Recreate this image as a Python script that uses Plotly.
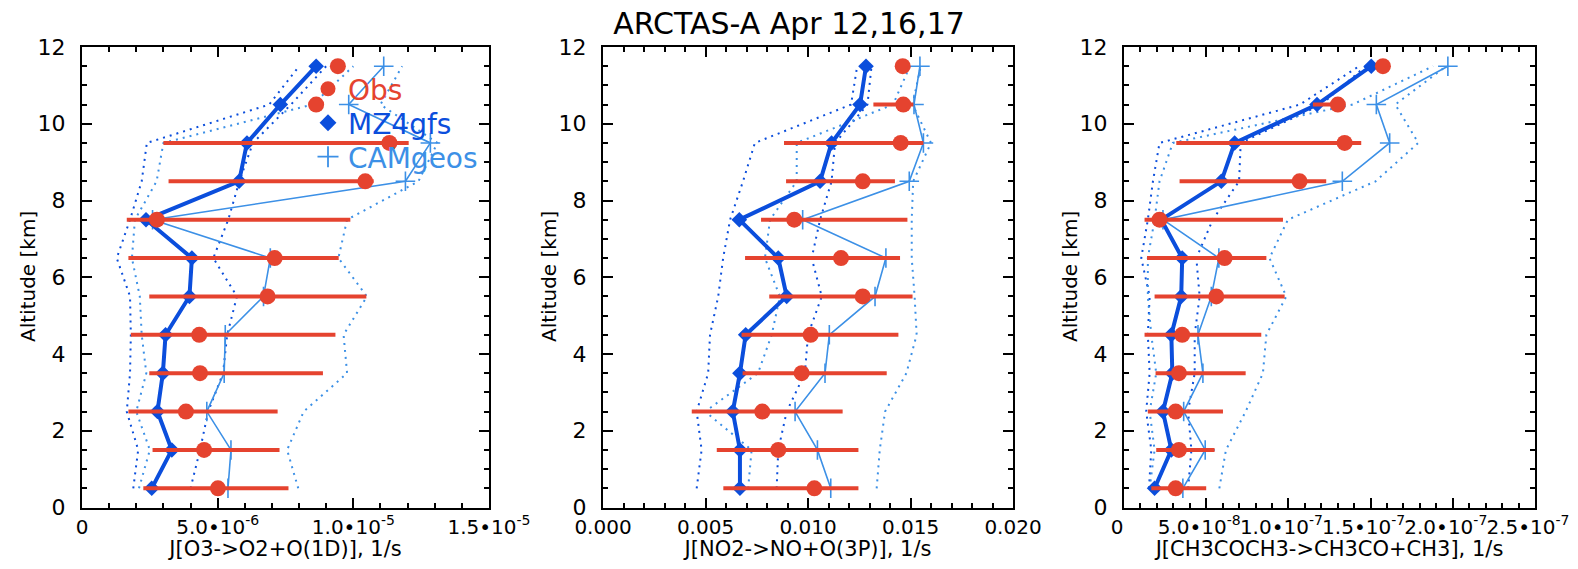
import plotly.graph_objects as go

# ---------------- data ----------------
altitude = [0.5, 1.5, 2.5, 3.5, 4.5, 5.5, 6.5, 7.5, 8.5, 9.5, 10.5, 11.5]

# Panel 1: J[O3->O2+O(1D)]  (values in units of 1e-6 1/s)
o3_scale = 1e-6
o3_obs = [5.01, 4.50, 3.83, 4.35, 4.32, 6.84, 7.10, 2.76, 10.44, 11.33, 8.63, 9.43]
o3_obs_lo = [2.26, 2.60, 1.71, 2.48, 1.80, 2.48, 1.71, 1.65, 3.19, 3.00, 8.35, 9.43]
o3_obs_hi = [7.61, 7.28, 7.21, 8.88, 9.34, 10.48, 9.46, 9.89, 10.75, 12.04, 8.63, 9.43]
o3_mz4 = [2.57, 3.31, 2.78, 2.98, 3.08, 3.96, 4.05, 2.36, 5.79, 6.08, 7.31, 8.63]
o3_mz4_lo = [1.89, 2.07, 1.65, 1.77, 1.80, 1.77, 1.28, 1.77, 2.20, 2.39, 6.90, 8.00]
o3_mz4_hi = [4.00, 4.35, 4.65, 5.20, 5.35, 5.71, 4.84, 5.39, 5.80, 6.30, 7.70, 9.00]
o3_cam = [5.38, 5.49, 4.60, 5.24, 5.28, 6.69, 6.94, 2.60, 11.92, 12.84, 9.83, 11.12]
o3_cam_lo = [2.10, 2.50, 2.00, 2.37, 2.20, 2.13, 1.84, 1.95, 2.75, 3.00, 8.50, 10.00]
o3_cam_hi = [7.97, 7.56, 8.17, 9.77, 9.64, 10.50, 9.45, 9.77, 12.40, 13.10, 11.00, 11.80]

# Panel 2: J[NO2->NO+O(3P)]  (values in units of 1e-3 1/s)
no2_scale = 1e-3
no2_obs = [10.31, 8.55, 7.77, 9.69, 10.13, 12.67, 11.61, 9.33, 12.67, 14.52, 14.65, 14.62]
no2_obs_lo = [5.87, 5.55, 4.33, 6.81, 6.76, 8.11, 6.93, 7.71, 8.93, 8.83, 13.19, 14.30]
no2_obs_hi = [12.46, 12.46, 11.69, 13.84, 14.41, 15.10, 14.49, 14.85, 14.24, 15.63, 15.14, 14.62]
no2_mz4 = [6.68, 6.68, 6.33, 6.68, 6.96, 8.96, 8.55, 6.65, 10.59, 11.15, 12.54, 12.83]
no2_mz4_lo = [4.57, 4.81, 4.57, 5.13, 5.22, 5.62, 5.86, 6.20, 6.83, 7.41, 12.10, 12.40]
no2_mz4_hi = [8.47, 8.55, 8.96, 9.85, 10.00, 10.67, 10.18, 10.59, 11.15, 11.32, 12.90, 13.10]
no2_cam = [11.11, 10.46, 9.37, 10.83, 11.04, 13.27, 13.80, 9.74, 14.94, 15.63, 15.17, 15.46]
no2_cam_lo = [7.08, 7.25, 4.98, 7.56, 8.23, 8.63, 7.90, 8.15, 9.45, 9.45, 14.15, 14.97]
no2_cam_hi = [13.35, 13.50, 13.76, 14.80, 15.30, 15.20, 15.06, 15.06, 15.13, 16.00, 15.10, 15.50]

# Panel 3: J[CH3COCH3->CH3CO+CH3]  (values in units of 1e-8 1/s)
ace_scale = 1e-8
ace_obs = [3.14, 3.34, 3.14, 3.34, 3.54, 5.61, 6.12, 2.16, 10.68, 13.42, 13.01, 15.75]
ace_obs_lo = [1.66, 1.96, 1.45, 1.92, 1.25, 1.86, 1.40, 1.25, 3.38, 3.18, 11.49, 15.75]
ace_obs_hi = [5.00, 5.51, 6.02, 7.40, 8.35, 9.77, 8.66, 9.67, 12.30, 14.43, 13.40, 15.75]
ace_mz4 = [1.86, 2.88, 2.37, 2.94, 2.88, 3.48, 3.54, 2.27, 5.92, 6.73, 11.74, 15.04]
ace_mz4_lo = [1.52, 1.66, 1.35, 1.56, 1.45, 1.56, 1.05, 1.45, 1.76, 2.16, 10.70, 14.30]
ace_mz4_hi = [3.90, 4.10, 3.90, 4.30, 4.30, 4.60, 4.40, 5.40, 7.00, 7.10, 12.00, 14.70]
ace_cam = [3.58, 4.94, 3.63, 4.80, 4.50, 5.31, 5.77, 2.37, 13.28, 16.16, 15.35, 19.70]
ace_cam_lo = [1.56, 1.86, 1.56, 1.96, 1.66, 1.45, 1.45, 1.86, 2.16, 2.97, 13.90, 18.80]
ace_cam_hi = [5.80, 6.20, 7.40, 8.45, 8.66, 9.87, 8.85, 9.97, 15.30, 17.90, 16.50, 19.60]

# axis ticks
o3_tickvals = [0, 5e-6, 1e-5, 1.5e-5]
o3_ticktext = ["0", "5.0•10<sup>-6</sup>", "1.0•10<sup>-5</sup>", "1.5•10<sup>-5</sup>"]
no2_tickvals = [0, 0.005, 0.010, 0.015, 0.020]
no2_ticktext = ["0.000", "0.005", "0.010", "0.015", "0.020"]
ace_tickvals = [0, 5e-8, 1e-7, 1.5e-7, 2e-7, 2.5e-7]
ace_ticktext = ["0", "5.0•10<sup>-8</sup>", "1.0•10<sup>-7</sup>", "1.5•10<sup>-7</sup>",
                "2.0•10<sup>-7</sup>", "2.5•10<sup>-7</sup>"]

x_titles = ["J[O3->O2+O(1D)], 1/s", "J[NO2->NO+O(3P)], 1/s", "J[CH3COCH3->CH3CO+CH3], 1/s"]
y_title = "Altitude [km]"
title_text = "ARCTAS-A Apr 12,16,17"

# ---------------- style ----------------
PAGE_W, PAGE_H = 1578, 569
OFF = 8                       # default page margin around the figure
W, H = PAGE_W - OFF, PAGE_H - 2 * OFF
FONT = "DejaVu Sans"
RED = "#E5432F"
DARK = "#0B4EDC"
LIGHT = "#3C90E6"


def fx(px):
    return (px - OFF) / W


def fy(py):
    return 1 - (py - OFF) / H


panels = [
    dict(scale=o3_scale, obs=o3_obs, lo=o3_obs_lo, hi=o3_obs_hi, mz4=o3_mz4, mz4_lo=o3_mz4_lo,
         mz4_hi=o3_mz4_hi, cam=o3_cam, cam_lo=o3_cam_lo, cam_hi=o3_cam_hi,
         rng=[0, 1.5e-5], tv=o3_tickvals, tt=o3_ticktext, minor=1e-6, px=(82, 489), shift=0),
    dict(scale=no2_scale, obs=no2_obs, lo=no2_obs_lo, hi=no2_obs_hi, mz4=no2_mz4, mz4_lo=no2_mz4_lo,
         mz4_hi=no2_mz4_hi, cam=no2_cam, cam_lo=no2_cam_lo, cam_hi=no2_cam_hi,
         rng=[0, 0.020], tv=no2_tickvals, tt=no2_ticktext, minor=0.001, px=(603, 1013), shift=0),
    dict(scale=ace_scale, obs=ace_obs, lo=ace_obs_lo, hi=ace_obs_hi, mz4=ace_mz4, mz4_lo=ace_mz4_lo,
         mz4_hi=ace_mz4_hi, cam=ace_cam, cam_lo=ace_cam_lo, cam_hi=ace_cam_hi,
         rng=[0, 2.5e-7], tv=ace_tickvals, tt=ace_ticktext, minor=1e-8, px=(1124, 1535), shift=-7),
]

fig = go.Figure()
y_dom = [fy(507.5), fy(47)]

for i, p in enumerate(panels):
    k = "" if i == 0 else str(i + 1)
    xa, ya = "x" + k, "y" + k
    s = p["scale"]
    sc = lambda arr: [v * s for v in arr]

    for arr, col in [(p["mz4_lo"], DARK), (p["mz4_hi"], DARK), (p["cam_lo"], LIGHT), (p["cam_hi"], LIGHT)]:
        fig.add_trace(go.Scatter(x=sc(arr), y=altitude, mode="lines", xaxis=xa, yaxis=ya,
                                 line=dict(color=col, width=2, dash="2px,5px"), showlegend=False,
                                 hoverinfo="skip"))
    fig.add_trace(go.Scatter(x=sc(p["cam"]), y=altitude, mode="lines+markers", xaxis=xa, yaxis=ya,
                             line=dict(color=LIGHT, width=1.6),
                             marker=dict(symbol="cross-thin", size=14, line=dict(color=LIGHT, width=1.6)),
                             showlegend=False))
    fig.add_trace(go.Scatter(x=sc(p["mz4"]), y=altitude, mode="lines+markers", xaxis=xa, yaxis=ya,
                             line=dict(color=DARK, width=4),
                             marker=dict(symbol="diamond", size=12, color=DARK),
                             showlegend=False))
    ob = sc(p["obs"])
    plus = [h * s - o for h, o in zip(p["hi"], ob)]
    minus = [o - l * s for l, o in zip(p["lo"], ob)]
    fig.add_trace(go.Scatter(x=ob, y=altitude, mode="markers", xaxis=xa, yaxis=ya,
                             marker=dict(symbol="circle", size=16, color=RED),
                             error_x=dict(type="data", symmetric=False, array=plus, arrayminus=minus,
                                          color=RED, thickness=4, width=0),
                             showlegend=False))

    axis_common = dict(showline=True, linecolor="black", linewidth=2, mirror="allticks",
                       ticks="inside", tickcolor="black", tickwidth=2, ticklen=10,
                       showgrid=False, zeroline=False, automargin=False)
    fig.update_layout(**{
        "xaxis" + k: dict(axis_common, domain=[fx(p["px"][0]), fx(p["px"][1])], anchor=ya,
                          range=p["rng"], tickmode="array", tickvals=p["tv"], ticktext=p["tt"],
                          tickangle=0, ticklabeloverflow="allow", ticklabelshift=p["shift"],
                          tickfont=dict(family=FONT, size=20, color="black"),
                          minor=dict(tickmode="linear", tick0=0, dtick=p["minor"], ticks="inside",
                                     ticklen=5, tickwidth=1.5, tickcolor="black"),
                          title=dict(text=x_titles[i], font=dict(family=FONT, size=21, color="black"),
                                     standoff=6)),
        "yaxis" + k: dict(axis_common, domain=y_dom, anchor=xa, range=[0, 12],
                          tickmode="linear", tick0=0, dtick=2,
                          tickfont=dict(family=FONT, size=22, color="black"),
                          minor=dict(tickmode="linear", tick0=0, dtick=0.5, ticks="inside",
                                     ticklen=5, tickwidth=1.5, tickcolor="black"),
                          ticklabelstandoff=10),
    })
    # rotated y-axis title, centred on the plot's vertical extent
    fig.add_annotation(text=y_title, textangle=-90, xref="paper", yref="paper",
                       x=fx(p["px"][0] - 54), y=fy(277), xanchor="center", yanchor="middle",
                       showarrow=False, font=dict(family=FONT, size=20, color="black"))

# legend entries (separate legends so each text has its own colour)
leg_items = [("Obs", dict(symbol="circle", size=15, color=RED), RED, "legend", 89),
             ("MZ4gfs", dict(symbol="diamond", size=13, color=DARK), DARK, "legend2", 123),
             ("CAMgeos", dict(symbol="cross-thin", size=15, line=dict(color=LIGHT, width=1.8)), LIGHT, "legend3", 157)]
for name, mk, col, lg, ypix in leg_items:
    fig.add_trace(go.Scatter(x=[None], y=[None], mode="markers", marker=mk, name=name,
                             legend=lg, showlegend=True))
    fig.update_layout(**{lg: dict(x=fx(308), y=fy(ypix), xanchor="left", yanchor="middle",
                                  bgcolor="rgba(0,0,0,0)", borderwidth=0,
                                  font=dict(family=FONT, size=28, color=col))})

fig.update_layout(
    width=W, height=H,
    margin=dict(l=0, r=0, t=0, b=0, autoexpand=False),
    paper_bgcolor="white", plot_bgcolor="white",
    title=dict(text=title_text, x=fx(PAGE_W / 2), xanchor="center", y=fy(23), yanchor="middle",
               automargin=False, font=dict(family=FONT, size=30, color="black")),
)

fig.write_html("out.html")
